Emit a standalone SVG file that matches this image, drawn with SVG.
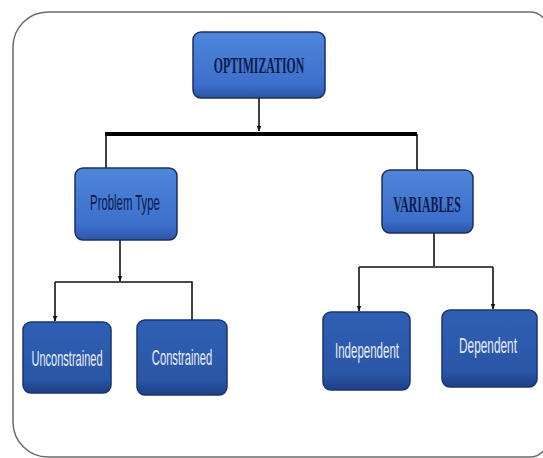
<svg xmlns="http://www.w3.org/2000/svg" width="543" height="458" viewBox="0 0 543 458">
<style>
.frame{fill:#fff;stroke:#6b6b6b;stroke-width:1.5}
.top{stroke:#1c2f5c;stroke-width:1.5}
.low{stroke:#1a3570;stroke-width:1.5}
.conn{fill:none;stroke:#111;stroke-width:1.6}
.bar{fill:none;stroke:#000;stroke-width:4}
.dark{font-family:"Liberation Serif",serif;font-weight:bold;fill:#0d1a4a;text-anchor:middle;font-size:16px}
.darks{font-family:"Liberation Sans",sans-serif;fill:#0d1a4a;text-anchor:middle;font-size:16px}
.light{font-family:"Liberation Sans",sans-serif;fill:#e6ecf8;text-anchor:middle;font-size:16px}
</style>
<defs>
<linearGradient id="gTop" x1="0" y1="0" x2="0" y2="1">
<stop offset="0" stop-color="#4f86da"/>
<stop offset="0.8" stop-color="#3c6fcb"/>
<stop offset="1" stop-color="#2b55a6"/>
</linearGradient>
<linearGradient id="gLow" x1="0" y1="0" x2="0" y2="1">
<stop offset="0" stop-color="#2f5fb4"/>
<stop offset="0.8" stop-color="#2a56a6"/>
<stop offset="1" stop-color="#1d3f86"/>
</linearGradient>
<marker id="arr" viewBox="0 0 10 10" refX="9" refY="5" markerWidth="6" markerHeight="6" orient="auto" markerUnits="userSpaceOnUse">
<path d="M0,1 L10,5 L0,9 z" fill="#111"/>
</marker>
</defs>
<rect width="543" height="458" fill="#fff"/>
<path class="frame" d="M48,12 H530 A18,18 0 0 1 548,30 V439 A18,18 0 0 1 530,457 H48 A35,35 0 0 1 13,422 V47 A35,35 0 0 1 48,12 Z"/>
<g id="connectors">
<line class="conn" x1="259" y1="98" x2="259" y2="131" marker-end="url(#arr)"/>
<line class="bar" x1="105" y1="134" x2="417" y2="134"/>
<polyline class="conn" points="106,134 106,168"/>
<polyline class="conn" points="417,134 417,170"/>
<line class="conn" x1="120" y1="240" x2="120" y2="281" marker-end="url(#arr)"/>
<polyline class="conn" points="55,282 192,282 192,320"/>
<line class="conn" x1="55" y1="282" x2="55" y2="321" marker-end="url(#arr)"/>
<line class="conn" x1="434" y1="233" x2="434" y2="266"/>
<line class="conn" x1="359" y1="267" x2="493" y2="267"/>
<line class="conn" x1="359" y1="267" x2="359" y2="311" marker-end="url(#arr)"/>
<line class="conn" x1="493" y1="267" x2="493" y2="309" marker-end="url(#arr)"/>
</g>
<g id="n-optimization">
<rect class="top" x="193" y="32" width="132" height="66" rx="8" fill="url(#gTop)"/>
<text class="dark" transform="translate(259,73) scale(0.74,1.4)" x="0" y="0">OPTIMIZATION</text>
</g>
<g id="n-problemtype">
<rect class="top" x="75" y="168" width="102" height="72" rx="8" fill="url(#gTop)"/>
<text class="darks" transform="translate(125,210) scale(0.71,1.35)" x="0" y="0">Problem Type</text>
</g>
<g id="n-variables">
<rect class="top" x="382" y="170" width="91" height="63" rx="8" fill="url(#gTop)"/>
<text class="dark" transform="translate(427,212) scale(0.74,1.4)" x="0" y="0">VARIABLES</text>
</g>
<g id="n-unconstrained">
<rect class="low" x="23" y="322" width="88" height="71" rx="8" fill="url(#gLow)"/>
<text class="light" transform="translate(67,366) scale(0.69,1.4)" x="0" y="0">Unconstrained</text>
</g>
<g id="n-constrained">
<rect class="low" x="137" y="320" width="90" height="75" rx="8" fill="url(#gLow)"/>
<text class="light" transform="translate(182,365) scale(0.7,1.4)" x="0" y="0">Constrained</text>
</g>
<g id="n-independent">
<rect class="low" x="323" y="312" width="87" height="78" rx="8" fill="url(#gLow)"/>
<text class="light" transform="translate(367,358) scale(0.72,1.4)" x="0" y="0">Independent</text>
</g>
<g id="n-dependent">
<rect class="low" x="442" y="310" width="95" height="77" rx="8" fill="url(#gLow)"/>
<text class="light" transform="translate(488,353) scale(0.74,1.4)" x="0" y="0">Dependent</text>
</g>
</svg>
